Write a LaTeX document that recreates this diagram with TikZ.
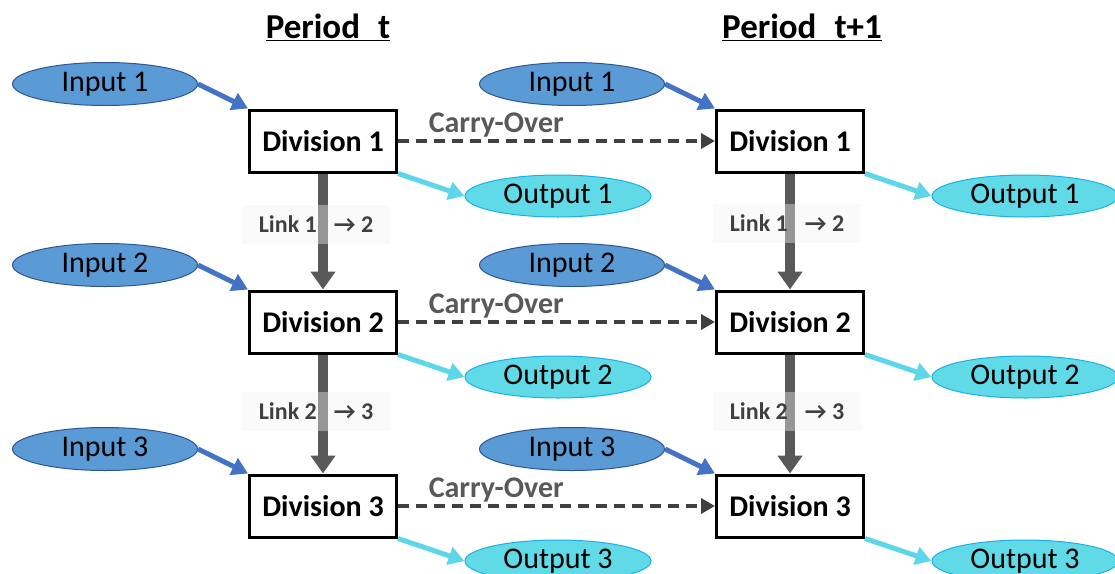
\documentclass[tikz,border=0pt]{standalone}
\usepackage{fontspec}
\setmainfont{Carlito}
\usepackage{tikz}
\usetikzlibrary{arrows.meta,positioning,shapes.geometric}

\definecolor{infill}{HTML}{5B9BD5}
\definecolor{inedge}{HTML}{2F5597}
\definecolor{inarrow}{HTML}{4472C4}
\definecolor{outfill}{HTML}{5FDAE6}
\definecolor{outedge}{HTML}{1AB0E6}
\definecolor{outarrow}{HTML}{5CD6E8}
\definecolor{carrygray}{HTML}{404040}
\definecolor{linkgray}{HTML}{595959}

\begin{document}
\begin{tikzpicture}[x=1pt,y=-1pt,node distance=181pt,>={Triangle[length=16pt,width=18pt]},font=\fontsize{30}{36}\selectfont]
		\tikzstyle{division}=[rectangle, line width=3pt, draw=black, fill=white, minimum width=147pt, minimum height=62pt, font=\bfseries\fontsize{30}{36}\selectfont]
		\tikzstyle{period}=[font=\bfseries\fontsize{35}{40}\selectfont]
		\tikzstyle{input}=[ellipse, draw=inedge, line width=1pt, fill=infill, minimum width=185pt, minimum height=43pt, inner sep=0pt]
		\tikzstyle{output}=[ellipse, draw=outedge, line width=1pt, fill=outfill, minimum width=186pt, minimum height=42pt, inner sep=0pt]
		\tikzstyle{feed}=[line width=5pt, draw=inarrow, ->]
		\tikzstyle{yield}=[line width=5pt, draw=outarrow, ->]
		\tikzstyle{carryover}=[line width=4pt, draw=carrygray, dash pattern=on 11pt off 7pt, -{Triangle[length=14pt,width=15pt]}]
		\tikzstyle{carrylabel}=[pos=0.31, yshift=16pt, text=linkgray, font=\bfseries\fontsize{30}{36}\selectfont]
		\tikzstyle{link}=[line width=10pt, draw=linkgray, -{Triangle[length=18pt,width=24pt]}]
		\tikzstyle{linkbox}=[rectangle, fill=gray!10, fill opacity=0.4, text opacity=1, text=carrygray, minimum width=148pt, minimum height=39pt, font=\bfseries\fontsize{24}{28}\selectfont]

		\useasboundingbox (0,0) rectangle (1115,573);

		% period t
		\node [division] (da1) at (323,141) {Division 1};
		\node [division] (da2) [below of=da1] {Division 2};
		\node [division] (da3) [below of=da2, node distance=184pt] {Division 3};
		% period t+1
		\node [division] (db1) [right of=da1, node distance=467pt] {Division 1};
		\node [division] (db2) [right of=da2, node distance=467pt] {Division 2};
		\node [division] (db3) [right of=da3, node distance=467pt] {Division 3};

		\node [period] (pa) [above of=da1, node distance=114pt, xshift=5pt] {\underline{Period\hspace{18pt}t}};
		\node [period] (pb) [above of=db1, node distance=114pt, xshift=12pt] {\underline{Period\hspace{18pt}t+1}};

		% inputs and outputs
		\node [input] (ia1) [left of=da1, node distance=218pt, yshift=57pt] {Input 1};
		\node [input] (ia2) [left of=da2, node distance=218pt, yshift=57pt] {Input 2};
		\node [input] (ia3) [left of=da3, node distance=218pt, yshift=57pt] {Input 3};
		\node [input] (ib1) [left of=db1, node distance=218pt, yshift=57pt] {Input 1};
		\node [input] (ib2) [left of=db2, node distance=218pt, yshift=57pt] {Input 2};
		\node [input] (ib3) [left of=db3, node distance=218pt, yshift=57pt] {Input 3};
		\node [output] (oa1) [right of=da1, node distance=235pt, yshift=-55pt] {Output 1};
		\node [output] (oa2) [right of=da2, node distance=235pt, yshift=-55pt] {Output 2};
		\node [output] (oa3) [right of=da3, node distance=235pt, yshift=-55pt] {Output 3};
		\node [output] (ob1) [right of=db1, node distance=235pt, yshift=-55pt] {Output 1};
		\node [output] (ob2) [right of=db2, node distance=235pt, yshift=-55pt] {Output 2};
		\node [output] (ob3) [right of=db3, node distance=235pt, yshift=-55pt] {Output 3};

		\draw [feed] (ia1.east) -- (da1.north west);
		\draw [feed] (ia2.east) -- (da2.north west);
		\draw [feed] (ia3.east) -- (da3.north west);
		\draw [feed] (ib1.east) -- (db1.north west);
		\draw [feed] (ib2.east) -- (db2.north west);
		\draw [feed] (ib3.east) -- (db3.north west);
		\draw [yield] (da1.south east) -- (oa1.west);
		\draw [yield] (da2.south east) -- (oa2.west);
		\draw [yield] (da3.south east) -- (oa3.west);
		\draw [yield] (db1.south east) -- (ob1.west);
		\draw [yield] (db2.south east) -- (ob2.west);
		\draw [yield] (db3.south east) -- (ob3.west);

		% carry-over between periods
		\draw [carryover] (da1) -- node [carrylabel] {Carry-Over} (db1);
		\draw [carryover] (da2) -- node [carrylabel] {Carry-Over} (db2);
		\draw [carryover] (da3) -- node [carrylabel] {Carry-Over} (db3);

		% links between divisions
		\draw [link] (da1) -- (da2);
		\draw [link] (da2) -- (da3);
		\draw [link] (db1) -- (db2);
		\draw [link] (db2) -- (db3);
		\node [linkbox] (la1) [below of=da1, node distance=83pt, xshift=-7pt] {Link 1\hspace{17pt}→ 2};
		\node [linkbox] (la2) [below of=da2, node distance=89pt, xshift=-7pt] {Link 2\hspace{17pt}→ 3};
		\node [linkbox] (lb1) [below of=db1, node distance=82pt, xshift=-3pt] {Link 1\hspace{17pt}→ 2};
		\node [linkbox] (lb2) [below of=db2, node distance=89pt, xshift=-3pt] {Link 2\hspace{17pt}→ 3};
	\end{tikzpicture}
\end{document}
